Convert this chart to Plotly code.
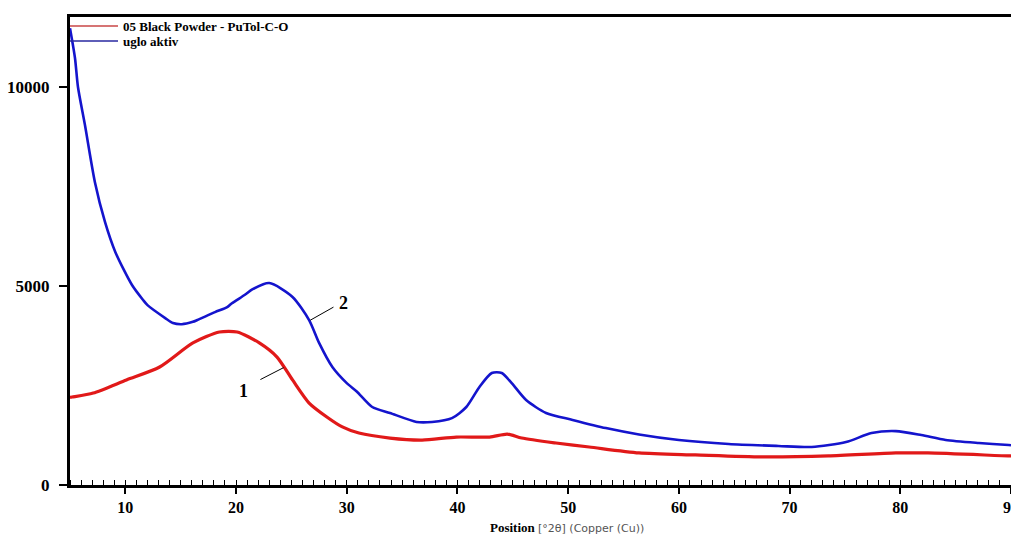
import plotly.graph_objects as go

# ---- data ----
blue_x = [5.0, 5.45, 5.72, 6.35, 7.25, 8.16, 9.1, 10.6, 11.6, 12.0, 13.6, 14.3, 15.1, 16.1,
          16.5, 18.1, 19.2, 19.6, 20.8, 21.5, 23.0, 25.1, 26.6, 27.5, 28.7, 30.0, 30.9, 32.3,
          33.9, 36.3, 37.7, 39.5, 40.8, 42.0, 43.1, 44.0, 44.9, 46.2, 48.0, 50.4, 53.4, 56.4,
          60.0, 64.5, 69.0, 72.0, 75.1, 77.4, 79.6, 81.9, 84.1, 87.1, 89.8, 90.0]
blue_y = [11480, 10730, 10000, 9045, 7610, 6610, 5850, 5025, 4650, 4520, 4195, 4070, 4040, 4100,
          4145, 4345, 4470, 4560, 4780, 4920, 5075, 4725, 4145, 3570, 2965, 2560, 2350, 1960,
          1810, 1585, 1585, 1680, 1960, 2470, 2815, 2815, 2560, 2135, 1810, 1635, 1430, 1270,
          1130, 1030, 980, 955, 1080, 1305, 1355, 1255, 1130, 1055, 1005, 1000]

red_x = [5.0, 5.2, 7.1, 10.1, 13.1, 16.1, 18.5, 20.1, 22.1, 23.7, 25.1, 26.6, 28.2, 29.6,
         31.1, 33.9, 36.8, 39.9, 42.9, 44.5, 45.8, 48.9, 51.9, 56.4, 61.5, 67.5, 73.5, 79.6,
         82.5, 89.8, 90.0]
red_y = [2200, 2210, 2310, 2640, 2965, 3570, 3845, 3845, 3570, 3215, 2640, 2060, 1710, 1460,
         1305, 1180, 1130, 1205, 1205, 1280, 1180, 1055, 955, 805, 755, 705, 730, 805,
         805, 730, 730]

series_names = ["05 Black Powder - PuTol-C-O", "uglo aktiv"]
x_ticks = [10, 20, 30, 40, 50, 60, 70, 80, 90]
y_ticks = [0, 5000, 10000]

SERIF = "Liberation Serif"
RED = "rgb(225,25,25)"
BLUE = "rgb(20,20,205)"

fig = go.Figure()
fig.add_trace(go.Scatter(x=red_x, y=red_y, mode="lines", name=series_names[0],
                         line=dict(color=RED, width=3.2, shape="spline", smoothing=0.7),
                         showlegend=False))
fig.add_trace(go.Scatter(x=blue_x, y=blue_y, mode="lines", name=series_names[1],
                         line=dict(color=BLUE, width=2.6, shape="spline", smoothing=0.7),
                         showlegend=False))

# manual legend (line samples + labels) in the top-left corner
legend_colors = ["rgb(200,70,70)", "rgb(40,40,160)"]
legend_py = [26, 41]
H = 534 - 17 - 49
for name, col, py in zip(series_names, legend_colors, legend_py):
    yp = (485 - py) / H
    fig.add_shape(type="line", xref="paper", yref="paper", x0=0, x1=48 / 941, y0=yp, y1=yp,
                  line=dict(color=col, width=1.5))
    fig.add_annotation(xref="paper", yref="paper", x=51 / 941, y=yp, text=f"<b>{name}</b>",
                       showarrow=False, xanchor="left", yanchor="middle",
                       font=dict(family=SERIF, size=13, color="black"))

# curve labels with leader lines
fig.add_shape(type="line", xref="x", yref="y", x0=22.2, y0=2650, x1=24.3, y1=2950,
              line=dict(color="black", width=1))
fig.add_annotation(xref="x", yref="y", x=20.7, y=2360, text="<b>1</b>", showarrow=False,
                   font=dict(family=SERIF, size=18, color="black"))
fig.add_shape(type="line", xref="x", yref="y", x0=26.7, y0=4140, x1=28.8, y1=4470,
              line=dict(color="black", width=1))
fig.add_annotation(xref="x", yref="y", x=29.7, y=4570, text="<b>2</b>", showarrow=False,
                   font=dict(family=SERIF, size=18, color="black"))

# axis title
fig.add_annotation(xref="x", yref="paper", x=49.9, y=(485 - 527) / H,
                   text="<b>Position</b> <span style=\"font-family:'DejaVu Sans';font-size:11px;color:#555555\">[°2θ] (Copper (Cu))</span>",
                   showarrow=False, xanchor="center", yanchor="middle",
                   font=dict(family=SERIF, size=13, color="black"))

fig.update_layout(
    width=1011, height=534,
    margin=dict(l=70, r=0, t=17, b=49, autoexpand=False),
    paper_bgcolor="white", plot_bgcolor="white",
    showlegend=False,
    xaxis=dict(range=[5, 90], tickvals=x_ticks, ticktext=[str(v) for v in x_ticks],
               automargin=False,
               showgrid=False, zeroline=False, showline=True, linecolor="black", linewidth=3,
               mirror=True, ticks="outside", ticklen=6, tickwidth=1.5, tickcolor="black",
               ticklabeloverflow="allow",
               minor=dict(ticks="inside", dtick=1, tick0=0, ticklen=5, tickwidth=1,
                          tickcolor="black", showgrid=False),
               tickfont=dict(family=SERIF, size=16, color="black", weight="bold")),
    yaxis=dict(range=[0, 11760], tickvals=y_ticks, ticktext=[str(v) for v in y_ticks],
               automargin=False,
               showgrid=False, zeroline=False, showline=True, linecolor="black", linewidth=3,
               ticks="outside", ticklen=8, tickwidth=1.5, tickcolor="black",
               ticklabelstandoff=6,
               tickfont=dict(family=SERIF, size=17, color="black", weight="bold")),
)

fig.write_html("out.html")
